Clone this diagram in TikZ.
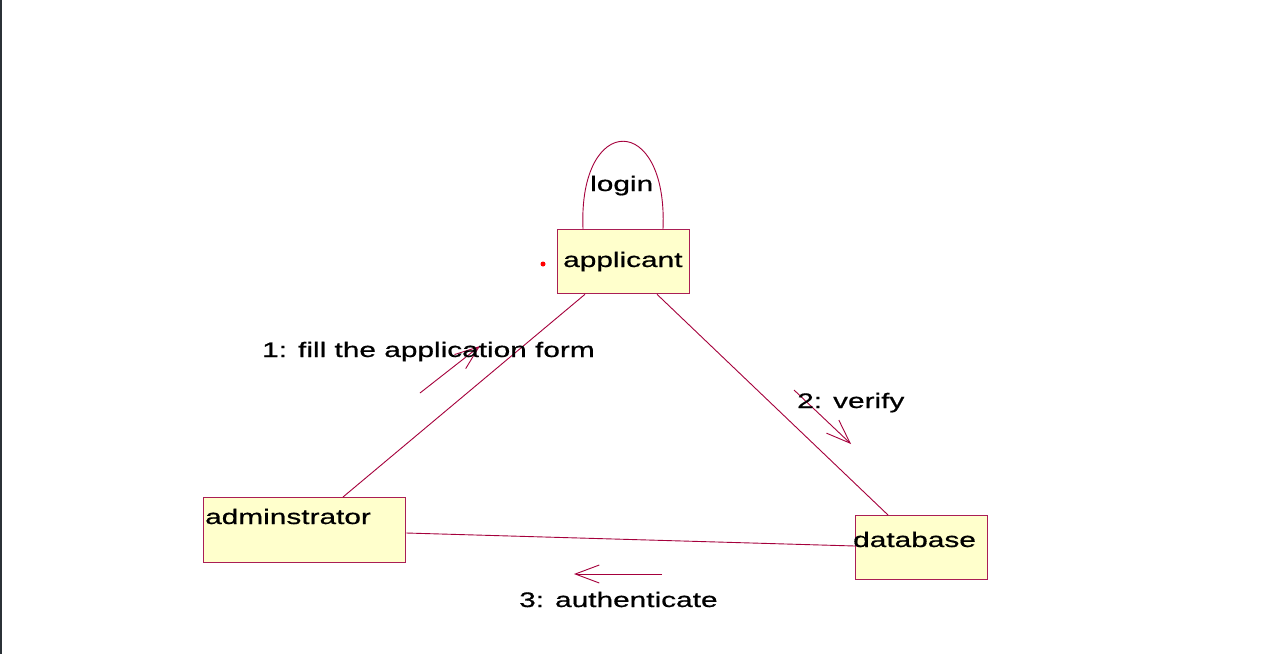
\documentclass[tikz,border=0pt]{standalone}
\usepackage{fontspec}
\usetikzlibrary{arrows.meta,calc}
\newfontfamily\lblfont{Liberation Sans}[FakeStretch=1.42,FakeBold=0.7]
\definecolor{umlline}{RGB}{165,0,60}
\definecolor{umlborder}{RGB}{170,30,85}
\definecolor{umlfill}{RGB}{255,255,204}
\definecolor{frameedge}{RGB}{43,49,55}
\tikzset{
  objbox/.style={draw=umlborder, fill=umlfill, line width=1.3pt, rectangle, inner sep=0pt, anchor=north west},
  lbl/.style={font=\lblfont\fontsize{21}{25}\selectfont, text=black, inner sep=0pt, anchor=base west},
  link/.style={draw=umlline, line width=0.9pt},
  msg/.style={draw=umlline, line width=0.9pt, -{Straight Barb[length=24pt,width=18pt,line width=0.9pt]}}
}
\begin{document}
\begin{tikzpicture}[x=1pt,y=-1pt]
\useasboundingbox (0,0) rectangle (1287,654);
\fill[white] (0,0) rectangle (1287,654);
\fill[frameedge] (0,0) rectangle (2,654);

% objects
\node[objbox, minimum width=132pt, minimum height=64pt] (app) at (557,229) {};
\node[objbox, minimum width=202pt, minimum height=65pt] (adm) at (203,497) {};
\node[objbox, minimum width=132pt, minimum height=64pt] (db) at (855,515) {};

% connector end points
\coordinate (appBL) at ($(app.south west)+(28,0)$);
\coordinate (appBR) at ($(app.south west)+(100,0)$);
\coordinate (appTL) at ($(app.north west)+(26,0)$);
\coordinate (appTR) at ($(app.north west)+(106,0)$);
\coordinate (admT) at ($(adm.north west)+(140,0)$);
\coordinate (admR) at ($(adm.north east)+(0,36)$);
\coordinate (dbT) at ($(db.north west)+(33,0)$);
\coordinate (dbL) at ($(db.north west)+(0,31)$);

% links
\draw[link] (appBL) -- (admT);
\draw[link] (appBR) -- (dbT);
\draw[link] (admR) -- (dbL);
\draw[link] (appTL) .. controls ($(appTL)+(-5,-117)$) and ($(appTR)+(5,-117)$) .. (appTR);

% message arrows
\coordinate (m1s) at (420,393);
\coordinate (m1e) at (480,346);
\coordinate (m2s) at (794,390);
\coordinate (m2e) at (851,444);
\coordinate (m3s) at (662,574);
\coordinate (m3e) at (574,574);
\draw[msg] (m1s) -- (m1e);
\draw[msg] (m2s) -- (m2e);
\draw[msg] (m3s) -- (m3e);

% labels
\node[lbl] (tlogin) at (590,191) {login};
\node[lbl] (tapp) at (563,267) {applicant};
\node[lbl] (tadm) at (205,524) {adminstrator};
\node[lbl] (tdb) at (853,547) {database};
\node[lbl] (t1) at (262,357) {1: fill the application form};
\node[lbl] (t2) at (797,408) {2: verify};
\node[lbl] (t3) at (519,607) {3: authenticate};

% red dot
\fill[red] (543,264) circle (2.5pt);
\end{tikzpicture}
\end{document}
